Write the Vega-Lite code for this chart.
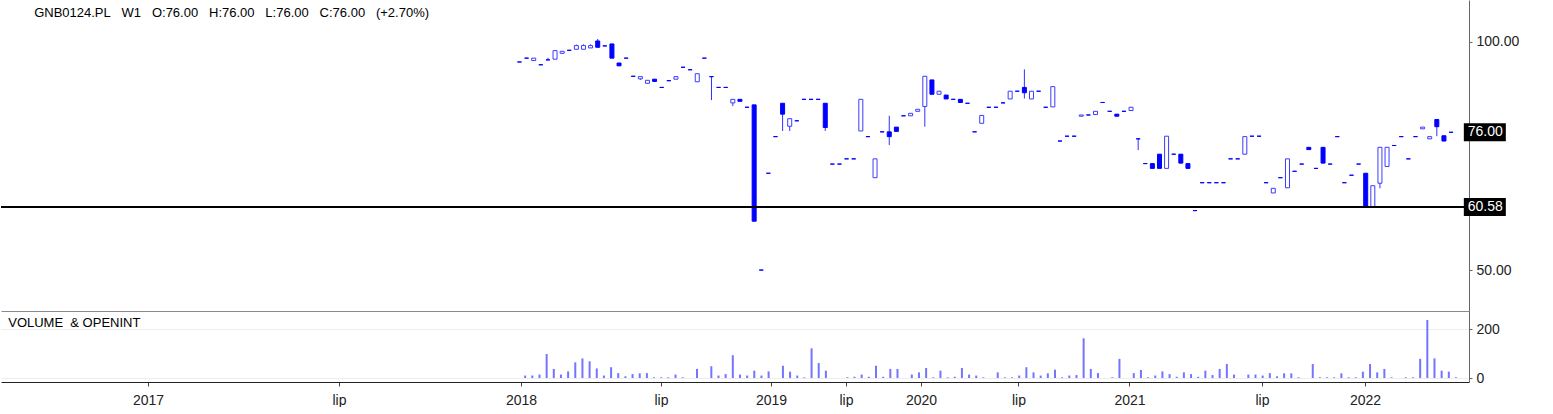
{
  "$schema": "https://vega.github.io/schema/vega-lite/v6.json",
  "padding": 0,
  "spacing": 0,
  "background": "white",
  "config": {"view": {"stroke": null}, "font": "Liberation Sans", "text": {"font": "Liberation Sans"}},
  "datasets": {
    "k": [
      {"i":0,"o":94.1,"h":94.1,"l":94.1,"c":94.1,"v":0},
      {"i":1,"o":95.2,"h":95.2,"l":95.2,"c":95.2,"v":10},
      {"i":2,"o":94.5,"h":95.2,"l":94.5,"c":95.2,"v":10},
      {"i":3,"o":93.3,"h":93.3,"l":93.3,"c":93.3,"v":14},
      {"i":4,"o":94.7,"h":95.3,"l":94.7,"c":94.7,"v":98},
      {"i":5,"o":94.9,"h":97.4,"l":94.9,"c":97.4,"v":37},
      {"i":6,"o":96.6,"h":97.2,"l":96.6,"c":97.2,"v":14},
      {"i":7,"o":97.5,"h":97.5,"l":97.5,"c":97.5,"v":27},
      {"i":8,"o":97.8,"h":99.2,"l":97.8,"c":98.9,"v":64},
      {"i":9,"o":97.8,"h":99.3,"l":97.8,"c":98.9,"v":80},
      {"i":10,"o":98.2,"h":99.3,"l":98.2,"c":98.9,"v":68},
      {"i":11,"o":100.3,"h":100.9,"l":98.4,"c":98.4,"v":39},
      {"i":12,"o":98.8,"h":98.8,"l":98.8,"c":98.8,"v":10},
      {"i":13,"o":99.4,"h":99.4,"l":95.2,"c":95.2,"v":44},
      {"i":14,"o":93.8,"h":93.8,"l":93.0,"c":93.0,"v":20},
      {"i":15,"o":95.2,"h":95.2,"l":95.2,"c":95.2,"v":7},
      {"i":16,"o":90.1,"h":90.1,"l":90.1,"c":90.1,"v":16},
      {"i":17,"o":89.4,"h":90.0,"l":89.1,"c":90.0,"v":19},
      {"i":18,"o":88.2,"h":89.0,"l":88.2,"c":89.0,"v":20},
      {"i":19,"o":89.3,"h":89.3,"l":88.7,"c":88.7,"v":3},
      {"i":20,"o":87.1,"h":87.1,"l":87.1,"c":87.1,"v":3},
      {"i":21,"o":88.9,"h":88.9,"l":88.9,"c":88.9,"v":3},
      {"i":22,"o":89.3,"h":90.0,"l":89.3,"c":90.0,"v":14},
      {"i":23,"o":92.6,"h":92.6,"l":92.6,"c":92.6,"v":3},
      {"i":24,"o":91.9,"h":91.9,"l":91.9,"c":91.9,"v":0},
      {"i":25,"o":88.6,"h":90.8,"l":88.6,"c":90.8,"v":37},
      {"i":26,"o":95.2,"h":95.2,"l":95.2,"c":95.2,"v":0},
      {"i":27,"o":90.0,"h":90.0,"l":83.8,"c":90.0,"v":48},
      {"i":28,"o":87.1,"h":87.1,"l":87.1,"c":87.1,"v":10},
      {"i":29,"o":87.1,"h":87.1,"l":87.1,"c":87.1,"v":16},
      {"i":30,"o":83.1,"h":84.0,"l":82.3,"c":84.0,"v":93},
      {"i":31,"o":84.0,"h":84.0,"l":83.5,"c":83.5,"v":14},
      {"i":32,"o":82.0,"h":82.0,"l":82.0,"c":82.0,"v":10},
      {"i":33,"o":82.6,"h":82.6,"l":58.0,"c":58.0,"v":30},
      {"i":34,"o":50.0,"h":50.0,"l":50.0,"c":50.0,"v":10},
      {"i":35,"o":67.1,"h":67.1,"l":67.1,"c":67.1,"v":27},
      {"i":36,"o":75.0,"h":75.0,"l":75.0,"c":75.0,"v":0},
      {"i":37,"o":83.0,"h":83.0,"l":76.3,"c":80.3,"v":50},
      {"i":38,"o":77.4,"h":79.2,"l":76.3,"c":79.2,"v":26},
      {"i":39,"o":78.7,"h":78.7,"l":78.7,"c":78.7,"v":10},
      {"i":40,"o":84.0,"h":84.0,"l":84.0,"c":84.0,"v":3},
      {"i":41,"o":84.0,"h":84.0,"l":84.0,"c":84.0,"v":121},
      {"i":42,"o":84.0,"h":84.0,"l":84.0,"c":84.0,"v":61},
      {"i":43,"o":83.0,"h":83.0,"l":76.3,"c":77.1,"v":30},
      {"i":44,"o":69.0,"h":69.0,"l":69.0,"c":69.0,"v":0},
      {"i":45,"o":69.0,"h":69.0,"l":69.0,"c":69.0,"v":0},
      {"i":46,"o":70.1,"h":70.1,"l":70.1,"c":70.1,"v":3},
      {"i":47,"o":70.1,"h":70.1,"l":70.1,"c":70.1,"v":5},
      {"i":48,"o":76.3,"h":84.0,"l":76.3,"c":84.0,"v":14},
      {"i":49,"o":75.0,"h":75.0,"l":75.0,"c":75.0,"v":5},
      {"i":50,"o":66.2,"h":70.1,"l":66.2,"c":70.1,"v":50},
      {"i":51,"o":76.1,"h":76.1,"l":76.1,"c":76.1,"v":5},
      {"i":52,"o":76.1,"h":79.9,"l":73.1,"c":75.0,"v":37},
      {"i":53,"o":77.2,"h":77.2,"l":76.2,"c":76.2,"v":37},
      {"i":54,"o":79.9,"h":79.9,"l":79.9,"c":79.9,"v":0},
      {"i":55,"o":79.9,"h":80.5,"l":79.9,"c":80.5,"v":14},
      {"i":56,"o":81.0,"h":81.5,"l":81.0,"c":81.5,"v":23},
      {"i":57,"o":82.2,"h":90.1,"l":77.3,"c":90.1,"v":41},
      {"i":58,"o":89.1,"h":89.1,"l":85.3,"c":85.3,"v":3},
      {"i":59,"o":85.3,"h":86.1,"l":85.3,"c":86.1,"v":30},
      {"i":60,"o":85.1,"h":85.1,"l":84.1,"c":84.1,"v":3},
      {"i":61,"o":84.0,"h":84.0,"l":84.0,"c":84.0,"v":5},
      {"i":62,"o":84.0,"h":84.0,"l":83.2,"c":83.2,"v":41},
      {"i":63,"o":83.0,"h":83.0,"l":83.0,"c":83.0,"v":14},
      {"i":64,"o":76.1,"h":76.1,"l":76.1,"c":76.1,"v":10},
      {"i":65,"o":78.1,"h":80.0,"l":78.1,"c":80.0,"v":3},
      {"i":66,"o":82.0,"h":82.0,"l":82.0,"c":82.0,"v":0},
      {"i":67,"o":82.0,"h":82.0,"l":82.0,"c":82.0,"v":23},
      {"i":68,"o":83.1,"h":83.1,"l":83.1,"c":83.1,"v":3},
      {"i":69,"o":84.1,"h":86.1,"l":84.1,"c":86.1,"v":3},
      {"i":70,"o":86.1,"h":86.1,"l":86.1,"c":86.1,"v":10},
      {"i":71,"o":87.1,"h":92.0,"l":84.2,"c":85.7,"v":44},
      {"i":72,"o":84.1,"h":86.1,"l":84.1,"c":86.1,"v":23},
      {"i":73,"o":86.1,"h":86.1,"l":86.1,"c":86.1,"v":10},
      {"i":74,"o":82.0,"h":82.0,"l":82.0,"c":82.0,"v":19},
      {"i":75,"o":82.1,"h":87.3,"l":82.1,"c":87.3,"v":34},
      {"i":76,"o":74.0,"h":74.0,"l":74.0,"c":74.0,"v":3},
      {"i":77,"o":75.1,"h":75.1,"l":75.1,"c":75.1,"v":10},
      {"i":78,"o":75.1,"h":75.1,"l":75.1,"c":75.1,"v":12},
      {"i":79,"o":79.8,"h":80.1,"l":79.8,"c":80.1,"v":162},
      {"i":80,"o":80.1,"h":80.1,"l":80.1,"c":80.1,"v":37},
      {"i":81,"o":80.2,"h":81.0,"l":80.2,"c":81.0,"v":20},
      {"i":82,"o":83.2,"h":83.2,"l":83.2,"c":83.2,"v":0},
      {"i":83,"o":81.0,"h":81.0,"l":81.0,"c":81.0,"v":3},
      {"i":84,"o":80.3,"h":80.3,"l":79.8,"c":79.8,"v":78},
      {"i":85,"o":81.0,"h":81.0,"l":81.0,"c":81.0,"v":0},
      {"i":86,"o":81.2,"h":82.0,"l":81.2,"c":82.0,"v":20},
      {"i":87,"o":74.5,"h":74.5,"l":72.0,"c":74.5,"v":33},
      {"i":88,"o":69.1,"h":69.1,"l":69.1,"c":69.1,"v":3},
      {"i":89,"o":69.1,"h":69.1,"l":68.1,"c":68.1,"v":10},
      {"i":90,"o":71.1,"h":71.1,"l":68.1,"c":68.1,"v":27},
      {"i":91,"o":68.1,"h":75.1,"l":68.1,"c":75.1,"v":16},
      {"i":92,"o":71.1,"h":71.1,"l":71.1,"c":71.1,"v":5},
      {"i":93,"o":71.1,"h":71.1,"l":69.2,"c":69.2,"v":23},
      {"i":94,"o":69.1,"h":69.1,"l":68.1,"c":68.1,"v":16},
      {"i":95,"o":59.9,"h":59.9,"l":59.9,"c":59.9,"v":5},
      {"i":96,"o":65.2,"h":65.2,"l":65.2,"c":65.2,"v":30},
      {"i":97,"o":65.2,"h":65.2,"l":65.2,"c":65.2,"v":12},
      {"i":98,"o":65.2,"h":65.2,"l":65.2,"c":65.2,"v":37},
      {"i":99,"o":65.2,"h":65.2,"l":65.2,"c":65.2,"v":57},
      {"i":100,"o":70.1,"h":70.1,"l":70.1,"c":70.1,"v":14},
      {"i":101,"o":70.1,"h":70.1,"l":70.1,"c":70.1,"v":0},
      {"i":102,"o":71.1,"h":75.0,"l":71.1,"c":75.0,"v":14},
      {"i":103,"o":75.1,"h":75.1,"l":75.1,"c":75.1,"v":14},
      {"i":104,"o":75.1,"h":75.1,"l":75.1,"c":75.1,"v":10},
      {"i":105,"o":65.2,"h":65.2,"l":65.2,"c":65.2,"v":20},
      {"i":106,"o":63.2,"h":64.1,"l":63.2,"c":64.1,"v":7},
      {"i":107,"o":66.2,"h":66.2,"l":66.2,"c":66.2,"v":19},
      {"i":108,"o":64.2,"h":70.1,"l":64.2,"c":70.1,"v":19},
      {"i":109,"o":67.5,"h":67.5,"l":67.5,"c":67.5,"v":3},
      {"i":110,"o":69.0,"h":69.0,"l":69.0,"c":69.0,"v":0},
      {"i":111,"o":72.6,"h":72.6,"l":72.1,"c":72.1,"v":57},
      {"i":112,"o":68.1,"h":68.1,"l":68.1,"c":68.1,"v":3},
      {"i":113,"o":72.6,"h":72.6,"l":69.2,"c":69.2,"v":3},
      {"i":114,"o":69.0,"h":69.0,"l":69.0,"c":69.0,"v":3},
      {"i":115,"o":75.0,"h":75.0,"l":75.0,"c":75.0,"v":19},
      {"i":116,"o":65.2,"h":65.2,"l":65.2,"c":65.2,"v":3},
      {"i":117,"o":66.7,"h":66.7,"l":66.7,"c":66.7,"v":3},
      {"i":118,"o":69.0,"h":69.0,"l":69.0,"c":69.0,"v":26},
      {"i":119,"o":67.1,"h":67.1,"l":60.6,"c":60.6,"v":57},
      {"i":120,"o":60.6,"h":64.6,"l":60.6,"c":64.6,"v":23},
      {"i":121,"o":65.1,"h":72.6,"l":64.1,"c":72.6,"v":37},
      {"i":122,"o":68.5,"h":72.6,"l":68.5,"c":72.6,"v":3},
      {"i":123,"o":73.0,"h":73.0,"l":73.0,"c":73.0,"v":0},
      {"i":124,"o":75.0,"h":75.0,"l":75.0,"c":75.0,"v":3},
      {"i":125,"o":70.1,"h":70.1,"l":70.1,"c":70.1,"v":3},
      {"i":126,"o":75.0,"h":75.0,"l":75.0,"c":75.0,"v":78},
      {"i":127,"o":76.8,"h":77.2,"l":76.8,"c":77.2,"v":237},
      {"i":128,"o":74.5,"h":75.0,"l":74.5,"c":75.0,"v":80},
      {"i":129,"o":79.0,"h":79.0,"l":75.1,"c":77.3,"v":30},
      {"i":130,"o":75.2,"h":75.2,"l":74.0,"c":74.0,"v":26},
      {"i":131,"o":76.0,"h":76.0,"l":76.0,"c":76.0,"v":3}
    ]
  },
  "vconcat": [
    {
      "width": 1468,
      "height": 311,
      "data": {"name": "k"},
      "layer": [
        {
          "mark": {"type": "rule", "color": "#3030ff", "strokeWidth": 1},
          "encoding": {
            "x": {"field": "i", "type": "quantitative",
                  "scale": {"domain": [-72.207, 132.821], "nice": false, "zero": false},
                  "axis": {"title": null, "labels": false, "ticks": false, "grid": false, "domain": true, "domainColor": "#8a8a8a", "domainWidth": 1}},
            "y": {"field": "l", "type": "quantitative",
                  "scale": {"type": "log", "domain": [44.15, 113.6], "nice": false},
                  "axis": {"orient": "right", "title": null, "grid": false, "values": [50, 100], "format": ".2f",
                           "tickSize": 3, "labelPadding": 4, "labelFontSize": 14, "labelColor": "#222222",
                           "domainColor": "#666666", "tickColor": "#666666", "labelFont": "Liberation Sans"}},
            "y2": {"field": "h"}
          }
        },
        {
          "mark": {"type": "bar", "width": 4, "strokeWidth": 1},
          "encoding": {
            "x": {"field": "i", "type": "quantitative"},
            "y": {"field": "o", "type": "quantitative"},
            "y2": {"field": "c"},
            "fill": {"condition": {"test": "datum.c > datum.o", "value": "#ffffff"}, "value": "#0000ff"},
            "stroke": {"condition": {"test": "datum.c > datum.o", "value": "#3c3cff"}, "value": "#0000ff"}
          }
        },
        {
          "mark": {"type": "rule", "color": "#000000", "strokeWidth": 1},
          "encoding": {"y": {"datum": 60.58}}
        },
        {
          "data": {"values": [{"p": 76, "t": "76.00"}, {"p": 60.58, "t": "60.58"}]},
          "layer": [
            {
              "mark": {"type": "point", "shape": "M-1,-0.4286H1V0.4286H-1Z", "filled": true, "color": "#000000", "opacity": 1, "size": 1764, "strokeWidth": 0},
              "encoding": {"x": {"datum": 135.75}, "y": {"field": "p", "type": "quantitative"}}
            },
            {
              "mark": {"type": "text", "align": "left", "baseline": "middle", "color": "#ffffff", "fontSize": 14, "font": "Liberation Sans"},
              "encoding": {"x": {"datum": 133.34}, "y": {"field": "p", "type": "quantitative"}, "text": {"field": "t"}}
            }
          ]
        },
        {
          "data": {"values": [{"t": "GNB0124.PL\u00a0\u00a0\u00a0W1\u00a0\u00a0\u00a0O:76.00\u00a0\u00a0\u00a0H:76.00\u00a0\u00a0\u00a0L:76.00\u00a0\u00a0\u00a0C:76.00\u00a0\u00a0\u00a0(+2.70%)"}]},
          "mark": {"type": "text", "align": "left", "baseline": "middle", "color": "#000000", "fontSize": 13, "font": "Liberation Sans"},
          "encoding": {"x": {"datum": -68.25}, "y": {"datum": 109.2}, "text": {"field": "t"}}
        }
      ]
    },
    {
      "width": 1468,
      "height": 71,
      "data": {"name": "k"},
      "layer": [
        {
          "mark": {"type": "rule", "color": "#7474ff", "strokeWidth": 2},
          "encoding": {
            "x": {"field": "i", "type": "quantitative",
                  "scale": {"domain": [-72.207, 132.821], "nice": false, "zero": false},
                  "axis": {"title": null, "grid": false, "values": [-51.68, -25.0, 0.42, 19.97, 35.34, 45.81, 56.28, 69.9, 85.4, 103.9, 118.3],
                           "labelExpr": "datum.value < -40 ? '2017' : datum.value < 0 ? 'lip' : datum.value < 10 ? '2018' : datum.value < 30 ? 'lip' : datum.value < 40 ? '2019' : datum.value < 50 ? 'lip' : datum.value < 60 ? '2020' : datum.value < 80 ? 'lip' : datum.value < 90 ? '2021' : datum.value < 110 ? 'lip' : '2022'",
                           "labelFlush": false, "labelOverlap": false, "tickSize": 4, "labelPadding": 7, "labelFontSize": 14,
                           "labelColor": "#222222", "domainColor": "#222222", "tickColor": "#444444", "labelFont": "Liberation Sans"}},
            "y": {"field": "v", "type": "quantitative",
                  "scale": {"domain": [-16.3, 273.5], "nice": false, "zero": false},
                  "axis": {"orient": "right", "title": null, "grid": true, "gridColor": "#eeeeee", "values": [0, 100, 200], "format": "d",
                           "tickSize": 3, "labelPadding": 4, "labelFontSize": 14, "labelColor": "#222222",
                           "domainColor": "#666666", "tickColor": "#666666", "labelFont": "Liberation Sans"}},
            "y2": {"datum": 0}
          }
        },
        {
          "data": {"values": [{"t": "VOLUME\u00a0\u00a0&\u00a0OPENINT"}]},
          "mark": {"type": "text", "align": "left", "baseline": "middle", "color": "#000000", "fontSize": 13, "font": "Liberation Sans"},
          "encoding": {"x": {"datum": -71.2}, "y": {"datum": 224.5}, "text": {"field": "t"}}
        }
      ]
    }
  ],
  "resolve": {"scale": {"x": "independent", "y": "independent"}}
}
